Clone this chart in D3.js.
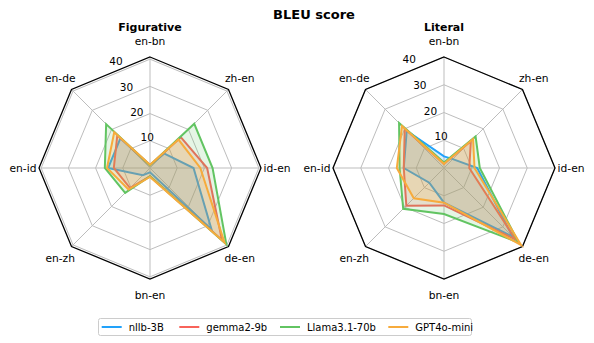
<!DOCTYPE html>
<html>
<head>
<meta charset="utf-8">
<script src="https://cdn.jsdelivr.net/npm/d3@7"></script>
<style>
  body { margin: 0; background: #fff; }
  svg text { font-family: "DejaVu Sans", sans-serif; fill: #000; }
</style>
</head>
<body>
<div class="chart"></div>
<script>
// axes, clockwise from the top
var pairs = ["en-bn", "zh-en", "id-en", "de-en", "bn-en", "en-zh", "en-id", "en-de"];
var models = ["nllb-3B", "gemma2-9b", "Llama3.1-70b", "GPT4o-mini"];
var colors = ["#22a2fa", "#f8635a", "#62c462", "#f7ab3c"];
var ticks = [10, 20, 30, 40];

// BLEU values, one array per model, in the order of pairs
var figurative = [
  [1.0, 7.5, 16.0, 32.0, 1.6, 3.7, 15.4, 15.4],
  [1.0, 16.0, 21.0, 37.4, 3.0, 10.4, 13.3, 17.0],
  [1.0, 23.0, 23.0, 39.7, 3.0, 12.9, 16.6, 22.8],
  [1.2, 14.8, 18.5, 38.7, 3.3, 11.2, 15.8, 18.6]
];
var literal = [
  [4.2, 4.5, 12.0, 35.0, 12.5, 7.5, 14.5, 19.0],
  [1.5, 13.7, 9.1, 36.5, 13.5, 19.2, 14.5, 20.0],
  [2.0, 16.1, 12.9, 38.0, 16.6, 20.8, 16.0, 22.9],
  [1.5, 14.8, 11.0, 39.3, 12.5, 15.4, 17.0, 21.4]
];

var width = 594, height = 343;
var svg = d3.select(".chart").append("svg")
  .attr("width", width)
  .attr("height", height);

svg.append("text")
  .attr("x", 314).attr("y", 19)
  .attr("text-anchor", "middle")
  .style("font-size", "13px").style("font-weight", "bold")
  .text("BLEU score");

function drawRadar(cx, cy, title, data, rmax) {
  var R = 111;
  var n = pairs.length;
  var r = d3.scaleLinear().domain([0, rmax]).range([0, R]);
  var ang = function (i) { return i * 2 * Math.PI / n; };

  var g = svg.append("g").attr("transform", "translate(" + cx + "," + cy + ")");

  var ring = d3.lineRadial()
    .angle(function (d, i) { return ang(i); })
    .radius(function (d) { return r(d); })
    .curve(d3.curveLinearClosed);

  // grid rings
  ticks.forEach(function (t) {
    g.append("path")
      .attr("d", ring(pairs.map(function () { return t; })))
      .attr("fill", "none")
      .attr("stroke", "#bdbdbd")
      .attr("stroke-width", 1);
  });

  // spokes
  pairs.forEach(function (p, i) {
    var a = ang(i);
    g.append("line")
      .attr("x1", 0).attr("y1", 0)
      .attr("x2", r(rmax) * Math.sin(a))
      .attr("y2", -r(rmax) * Math.cos(a))
      .attr("stroke", "#bdbdbd")
      .attr("stroke-width", 1);
  });

  // outer frame
  g.append("path")
    .attr("d", ring(pairs.map(function () { return rmax; })))
    .attr("fill", "none")
    .attr("stroke", "#000")
    .attr("stroke-width", 1.3);

  // series
  data.forEach(function (vals, k) {
    g.append("path")
      .attr("d", ring(vals))
      .attr("fill", colors[k])
      .attr("fill-opacity", 0.17)
      .attr("stroke", colors[k])
      .attr("stroke-width", 2)
      .attr("stroke-linejoin", "miter");
  });

  // radial tick labels at 22.5 degrees
  var ta = -Math.PI / n;
  ticks.forEach(function (t) {
    g.append("text")
      .attr("x", r(t) * Math.sin(ta) + 1)
      .attr("y", -r(t) * Math.cos(ta) - 2)
      .style("font-size", "10.5px")
      .text(t);
  });

  // axis labels
  pairs.forEach(function (p, i) {
    var a = ang(i);
    var lr = 127;
    g.append("text")
      .attr("x", lr * Math.sin(a))
      .attr("y", -lr * Math.cos(a))
      .attr("text-anchor", "middle")
      .attr("dy", "0.35em")
      .style("font-size", "10.7px")
      .text(p);
  });

  g.append("text")
    .attr("x", 0).attr("y", -137)
    .attr("text-anchor", "middle")
    .style("font-size", "11px").style("font-weight", "bold")
    .text(title);
}

drawRadar(150, 168, "Figurative", figurative, 40.8);
drawRadar(444, 168, "Literal", literal, 40);

// legend
var leg = svg.append("g");
leg.append("rect")
  .attr("x", 98.5).attr("y", 318.5)
  .attr("width", 373).attr("height", 17)
  .attr("rx", 2)
  .attr("fill", "#fff")
  .attr("stroke", "#cccccc");

var legX = [101.7, 179.3, 280, 388.3];
models.forEach(function (m, k) {
  leg.append("line")
    .attr("x1", legX[k]).attr("x2", legX[k] + 20)
    .attr("y1", 327).attr("y2", 327)
    .attr("stroke", colors[k])
    .attr("stroke-width", 2);
  leg.append("text")
    .attr("x", legX[k] + 27).attr("y", 327)
    .attr("dy", "0.35em")
    .style("font-size", "10px")
    .text(m);
});
</script>
</body>
</html>
